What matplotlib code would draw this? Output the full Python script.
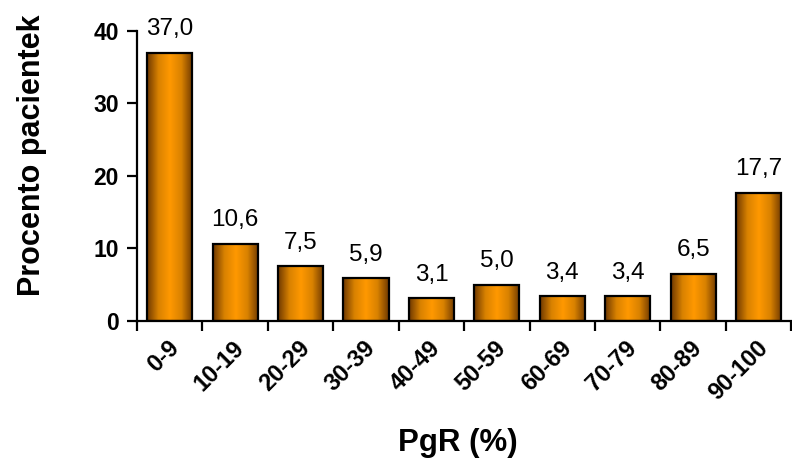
import numpy as np
import matplotlib.pyplot as plt
import matplotlib.transforms as mtransforms
from matplotlib.colors import LinearSegmentedColormap

categories = ['0-9', '10-19', '20-29', '30-39', '40-49', '50-59', '60-69', '70-79', '80-89', '90-100']
values = [37.0, 10.6, 7.5, 5.9, 3.1, 5.0, 3.4, 3.4, 6.5, 17.7]

plt.rcParams['font.family'] = ['Liberation Sans', 'DejaVu Sans']

fig = plt.figure(figsize=(7.92, 4.67), dpi=100)
ax = fig.add_axes([0.173, 0.313, 0.826, 0.621])

cmap = LinearSegmentedColormap.from_list('bar', ['#6e3800', '#d98200', '#ff9900', '#d98200', '#6e3800'])
grad = np.linspace(0, 1, 256).reshape(1, -1)
x = np.arange(len(categories))
width = 0.69

for xi, v in zip(x, values):
    ax.imshow(grad, cmap=cmap, aspect='auto', extent=(xi - width / 2, xi + width / 2, 0, v), zorder=2)
    ax.bar(xi, v, width=width, facecolor='none', edgecolor='black', linewidth=1.6, zorder=3)
    ax.annotate(f'{v:.1f}'.replace('.', ','), (xi, v), xytext=(0, 9), textcoords='offset points',
                ha='center', va='bottom', fontsize=17.5)

ax.set_xlim(-0.5, len(categories) - 0.5)
ax.set_ylim(0, 40)
ax.set_yticks([0, 10, 20, 30, 40])
ax.set_yticklabels(['0', '10', '20', '30', '40'], fontsize=16.5, fontweight='bold')

ax.set_xticks(x)
ax.set_xticklabels(categories, rotation=45, ha='right', va='center', rotation_mode='anchor',
                   fontsize=17, fontweight='bold')
ax.tick_params(axis='x', length=0, pad=17)
shift = mtransforms.ScaledTranslation(4 / 72, 0, fig.dpi_scale_trans)
for lbl in ax.get_xticklabels():
    lbl.set_transform(lbl.get_transform() + shift)
ax.set_xticks(np.arange(-0.5, len(categories)), minor=True)
ax.tick_params(axis='x', which='minor', direction='out', length=7, width=1.6)
ax.tick_params(axis='y', direction='out', length=7, width=1.6, pad=6)

for s in ['top', 'right']:
    ax.spines[s].set_visible(False)
for s in ['left', 'bottom']:
    ax.spines[s].set_linewidth(1.6)

ax.set_ylabel('Procento pacientek', fontsize=22, fontweight='bold')
ax.yaxis.set_label_coords(-0.137, 0.57)
ax.set_xlabel('PgR (%)', fontsize=22.5, fontweight='bold')
ax.xaxis.set_label_coords(0.49, -0.37)

fig.savefig('out.png', dpi=100)
